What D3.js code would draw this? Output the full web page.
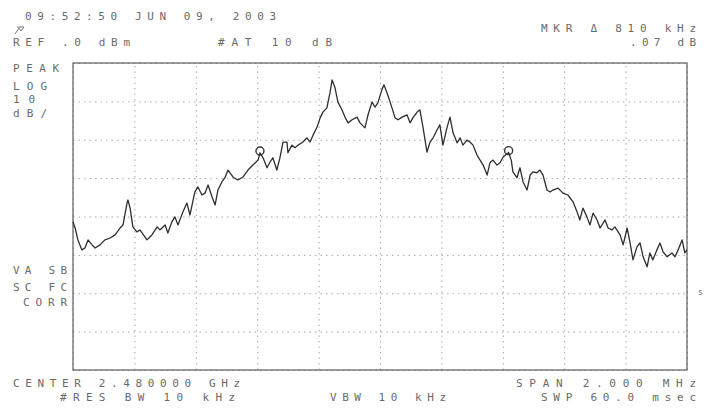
<!DOCTYPE html>
<html>
<head>
<meta charset="utf-8">
<script src="https://cdn.jsdelivr.net/npm/d3@7"></script>
<style>
  html, body { margin: 0; padding: 0; background: #fff; }
  svg { display: block; }
  text { font-family: "DejaVu Sans Mono", "Liberation Mono", monospace; fill: #6a6a6a; font-size: 11px; }
</style>
</head>
<body>
<svg id="chart" width="706" height="411"></svg>
<script>
// ---- data (frequency offset from centre in kHz, amplitude in dBm) ----
const freqKHz = [-1000,-993,-984,-971,-961,-951,-938,-928,-912,-896,-879,-863,-847,-837,-824,-821,-814,-805,-792,-782,
  -759,-743,-726,-717,-700,-691,-678,-668,-658,-642,-629,-619,-603,-593,-580,-570,-560,-547,-537,-528,
  -515,-505,-495,-479,-463,-446,-430,-414,-397,-391,-381,-368,-358,-349,-336,-326,-316,-303,-300,-287,
  -277,-267,-251,-238,-228,-218,-205,-195,-186,-173,-163,-156,-147,-137,-124,-114,-104,-91,-75,-65,
  -49,-39,-26,-16,-7,6,13,23,33,39,49,59,72,88,98,107,121,130,140,153,
  163,173,186,195,205,218,228,238,251,261,270,283,293,303,316,326,336,349,358,368,
  381,391,401,419,428,433,446,456,466,479,489,498,511,521,531,544,554,563,580,596,
  612,629,642,651,661,674,684,694,707,717,733,743,756,765,782,792,805,814,824,837,
  847,857,870,879,889,902,912,922,935,951,961,971,984,993,1000];
const levelDBm = [-41.4,-43.0,-46.1,-48.7,-48.2,-46.1,-47.4,-48.2,-47.4,-46.1,-45.6,-44.8,-43.0,-42.2,-36.5,-35.7,-37.8,-42.7,-44.0,-43.5,
  -46.1,-44.8,-42.7,-43.5,-42.2,-44.3,-41.4,-40.1,-42.2,-38.8,-36.5,-39.6,-33.6,-32.3,-34.4,-33.9,-31.8,-34.9,-37.0,-33.1,
  -31.0,-29.9,-27.9,-29.7,-30.5,-29.7,-27.9,-26.6,-25.3,-23.4,-24.7,-27.3,-25.8,-24.7,-27.9,-24.7,-20.6,-20.6,-23.4,-21.4,
  -22.1,-21.4,-20.6,-19.5,-20.6,-18.8,-16.7,-14.3,-12.8,-11.7,-7.8,-4.4,-6.3,-10.2,-12.2,-14.1,-15.6,-14.8,-14.1,-15.6,
  -16.9,-13.5,-10.2,-11.5,-10.4,-7.0,-5.7,-7.8,-10.2,-11.7,-14.3,-14.8,-14.1,-13.5,-15.6,-14.3,-12.8,-12.2,-16.7,-23.2,
  -20.6,-19.5,-17.4,-16.1,-21.4,-16.9,-14.1,-18.2,-20.8,-19.5,-21.4,-20.1,-20.6,-21.4,-24.0,-25.3,-26.6,-29.2,-26.0,-25.3,
  -26.6,-26.0,-24.5,-23.3,-25.5,-28.4,-29.9,-27.3,-31.0,-33.1,-29.2,-28.4,-28.6,-27.9,-29.2,-33.1,-33.6,-33.1,-32.6,-33.9,
  -34.4,-36.2,-38.8,-40.9,-37.8,-40.1,-42.2,-39.1,-40.9,-43.0,-40.9,-43.0,-43.5,-42.7,-44.8,-47.4,-43.0,-46.6,-51.3,-47.9,
  -46.9,-50.5,-53.1,-49.5,-51.3,-48.7,-46.9,-49.2,-50.5,-49.5,-50.5,-48.7,-46.1,-49.5,-48.7];

const markerFreqKHz = [-391, 419];
const markerDBm = [-23.2, -23.1];

const freqTicks = [-1000,-800,-600,-400,-200,0,200,400,600,800,1000];
const levelTicks = [0,-10,-20,-30,-40,-50,-60,-70,-80];

const headerLines = [
  {t:"09:52:50 JUN 09, 2003", x:25, y:20, w:251},
  {t:"REF .0 dBm", x:13, y:46, w:117},
  {t:"#AT 10 dB", x:218, y:46, w:114},
  {t:"MKR \u0394 810 kHz", x:541, y:32, w:155},
  {t:".07 dB", x:630, y:46, w:66}
];
const sideLines = [
  {t:"PEAK", x:13, y:72, w:46},
  {t:"LOG", x:13, y:90, w:34},
  {t:"10", x:13, y:103, w:22},
  {t:"dB/", x:13, y:117, w:34},
  {t:"VA SB", x:13, y:274, w:54},
  {t:"SC FC", x:13, y:291, w:54},
  {t:"CORR", x:23, y:306, w:44}
];
const footerLines = [
  {t:"CENTER 2.480000 GHz", x:13, y:387, w:227},
  {t:"#RES BW 10 kHz", x:60, y:401, w:175},
  {t:"VBW 10 kHz", x:330, y:401, w:116},
  {t:"SPAN 2.000 MHz", x:516, y:387, w:180},
  {t:"SWP 60.0 msec", x:541, y:401, w:155}
];

// ---- drawing ----
const svg = d3.select("#chart");
const x = d3.scaleLinear().domain([-1000, 1000]).range([73, 687]);
const y = d3.scaleLinear().domain([-80, 0]).range([370, 63]);

// grid via axes
const gx = svg.append("g").attr("transform", `translate(0,${y(-80)})`)
  .call(d3.axisBottom(x).tickValues(freqTicks).tickSize(-(y(-80) - y(0))).tickFormat(""));
const gy = svg.append("g").attr("transform", `translate(${x(-1000)},0)`)
  .call(d3.axisLeft(y).tickValues(levelTicks).tickSize(-(x(1000) - x(-1000))).tickFormat(""));
[gx, gy].forEach(g => {
  g.select(".domain").remove();
  g.selectAll(".tick line").attr("stroke", "#a9a9a9").attr("stroke-width", 1).attr("stroke-dasharray", "1.5,4");
});

// frame
svg.append("rect")
  .attr("x", x(-1000)).attr("y", y(0))
  .attr("width", x(1000) - x(-1000)).attr("height", y(-80) - y(0))
  .attr("fill", "none").attr("stroke", "#5c5c5c").attr("stroke-width", 1.2);

// trace
const pts = freqKHz.map((f, i) => [f, levelDBm[i]]);
svg.append("path")
  .datum(pts)
  .attr("fill", "none")
  .attr("stroke", "#2e2e2e")
  .attr("stroke-width", 1.3)
  .attr("stroke-linejoin", "round")
  .attr("d", d3.line().x(d => x(d[0])).y(d => y(d[1])));

// markers
svg.selectAll("circle.mkr")
  .data(markerFreqKHz.map((f, i) => [f, markerDBm[i]]))
  .join("circle")
  .attr("class", "mkr")
  .attr("cx", d => x(d[0])).attr("cy", d => y(d[1]) - 1)
  .attr("r", 4)
  .attr("fill", "none").attr("stroke", "#333").attr("stroke-width", 1.4);

// texts
function drawText(arr) {
  svg.append("g").selectAll("text").data(arr).join("text")
    .attr("x", d => d.x).attr("y", d => d.y)
    .attr("textLength", d => d.w).attr("lengthAdjust", "spacing")
    .text(d => d.t);
}
drawText(headerLines);
drawText(sideLines);
drawText(footerLines);

svg.append("text").attr("x", 698).attr("y", 295).style("font-size", "8px").text("s");

// small logo glyph
svg.append("path")
  .attr("d", "M15,34 L19,28 L21,31 L24,27 M17,27 L24,27")
  .attr("fill", "none").attr("stroke", "#777").attr("stroke-width", 1);
</script>
</body>
</html>
